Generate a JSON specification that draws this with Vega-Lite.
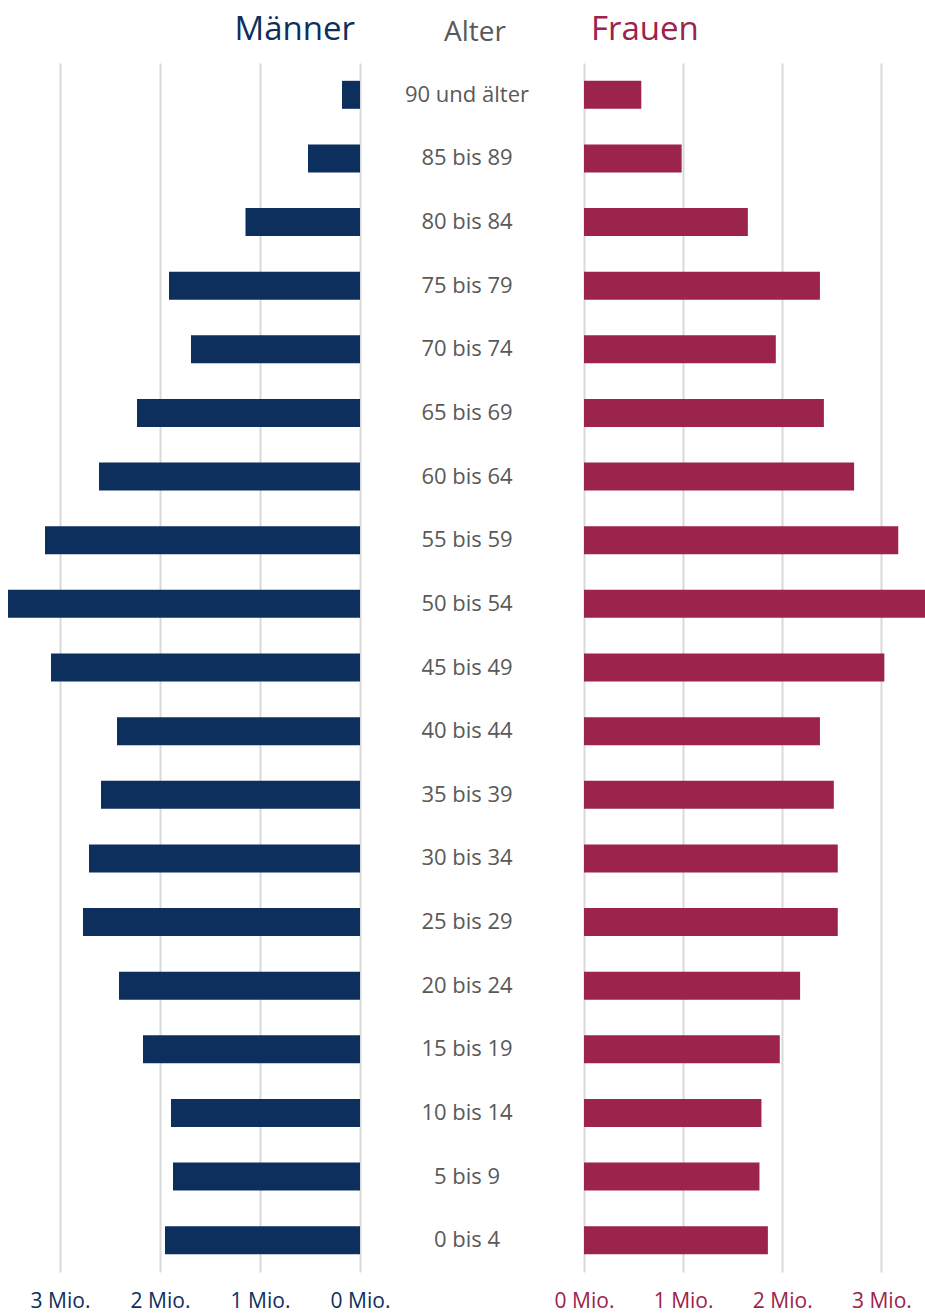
{
  "$schema": "https://vega.github.io/schema/vega-lite/v6.json",
  "padding": {"top": 14, "left": 0, "right": 0, "bottom": 0},
  "autosize": {"type": "pad"},
  "background": "white",
  "spacing": 0,
  "bounds": "flush",
  "config": {
    "view": {"stroke": null},
    "font": "Open Sans",
    "concat": {"spacing": 0}
  },
  "data": {
    "values": [
      {"Alter": "90 und älter", "Maenner": 0.18, "Frauen": 0.578},
      {"Alter": "85 bis 89", "Maenner": 0.52, "Frauen": 0.985},
      {"Alter": "80 bis 84", "Maenner": 1.145, "Frauen": 1.653},
      {"Alter": "75 bis 79", "Maenner": 1.91, "Frauen": 2.38},
      {"Alter": "70 bis 74", "Maenner": 1.69, "Frauen": 1.935},
      {"Alter": "65 bis 69", "Maenner": 2.23, "Frauen": 2.42},
      {"Alter": "60 bis 64", "Maenner": 2.61, "Frauen": 2.725},
      {"Alter": "55 bis 59", "Maenner": 3.15, "Frauen": 3.17},
      {"Alter": "50 bis 54", "Maenner": 3.52, "Frauen": 3.5},
      {"Alter": "45 bis 49", "Maenner": 3.09, "Frauen": 3.03},
      {"Alter": "40 bis 44", "Maenner": 2.43, "Frauen": 2.38},
      {"Alter": "35 bis 39", "Maenner": 2.59, "Frauen": 2.52},
      {"Alter": "30 bis 34", "Maenner": 2.71, "Frauen": 2.56},
      {"Alter": "25 bis 29", "Maenner": 2.77, "Frauen": 2.56},
      {"Alter": "20 bis 24", "Maenner": 2.41, "Frauen": 2.18},
      {"Alter": "15 bis 19", "Maenner": 2.17, "Frauen": 1.975},
      {"Alter": "10 bis 14", "Maenner": 1.89, "Frauen": 1.79},
      {"Alter": "5 bis 9", "Maenner": 1.87, "Frauen": 1.77},
      {"Alter": "0 bis 4", "Maenner": 1.95, "Frauen": 1.855}
    ]
  },
  "hconcat": [
    {
      "width": 360,
      "height": 1209,
      "title": {"text": "Männer", "anchor": "end", "frame": "group", "color": "#0d2f5e", "fontSize": 33, "fontWeight": "normal", "font": "Open Sans", "baseline": "alphabetic", "offset": -10, "dx": -5},
      "mark": {"type": "bar", "color": "#0d2f5e", "clip": true},
      "encoding": {
        "y": {"field": "Alter", "type": "nominal", "axis": null,
          "sort": ["90 und älter","85 bis 89","80 bis 84","75 bis 79","70 bis 74","65 bis 69","60 bis 64","55 bis 59","50 bis 54","45 bis 49","40 bis 44","35 bis 39","30 bis 34","25 bis 29","20 bis 24","15 bis 19","10 bis 14","5 bis 9","0 bis 4"],
          "scale": {"paddingInner": 0.56, "paddingOuter": 0.28}},
        "x": {"field": "Maenner", "type": "quantitative",
          "scale": {"domain": [0, 3.6], "reverse": true, "nice": false},
          "axis": {"values": [0, 1, 2, 3], "labelExpr": "datum.value + ' Mio.'", "grid": true, "gridColor": "#d9d9d9", "gridWidth": 2, "domain": false, "ticks": false, "labelFontSize": 21, "labelFont": "Open Sans", "labelColor": "#0d2f5e", "labelPadding": 18, "title": null, "labelFlush": false}}
      }
    },
    {
      "width": 224,
      "height": 1209,
      "title": {"text": "Alter", "anchor": "middle", "frame": "group", "color": "#595959", "fontSize": 28, "fontWeight": "normal", "font": "Open Sans", "baseline": "alphabetic", "offset": -6, "dx": 3},
      "mark": {"type": "text", "fontSize": 22, "font": "Open Sans", "color": "#595959", "dx": -5, "align": "center", "baseline": "middle"},
      "encoding": {
        "y": {"field": "Alter", "type": "nominal", "axis": null,
          "sort": ["90 und älter","85 bis 89","80 bis 84","75 bis 79","70 bis 74","65 bis 69","60 bis 64","55 bis 59","50 bis 54","45 bis 49","40 bis 44","35 bis 39","30 bis 34","25 bis 29","20 bis 24","15 bis 19","10 bis 14","5 bis 9","0 bis 4"],
          "scale": {"paddingInner": 0.56, "paddingOuter": 0.28}},
        "text": {"field": "Alter"}
      }
    },
    {
      "width": 341,
      "height": 1209,
      "title": {"text": "Frauen", "anchor": "start", "frame": "group", "color": "#9b234c", "fontSize": 33, "fontWeight": "normal", "font": "Open Sans", "baseline": "alphabetic", "offset": -10, "dx": 7},
      "mark": {"type": "bar", "color": "#9b234c", "clip": true},
      "encoding": {
        "y": {"field": "Alter", "type": "nominal", "axis": null,
          "sort": ["90 und älter","85 bis 89","80 bis 84","75 bis 79","70 bis 74","65 bis 69","60 bis 64","55 bis 59","50 bis 54","45 bis 49","40 bis 44","35 bis 39","30 bis 34","25 bis 29","20 bis 24","15 bis 19","10 bis 14","5 bis 9","0 bis 4"],
          "scale": {"paddingInner": 0.56, "paddingOuter": 0.28}},
        "x": {"field": "Frauen", "type": "quantitative",
          "scale": {"domain": [0, 3.44], "nice": false},
          "axis": {"values": [0, 1, 2, 3], "labelExpr": "datum.value + ' Mio.'", "grid": true, "gridColor": "#d9d9d9", "gridWidth": 2, "domain": false, "ticks": false, "labelFontSize": 21, "labelFont": "Open Sans", "labelColor": "#9b234c", "labelPadding": 18, "title": null, "labelFlush": false}}
      }
    }
  ]
}
